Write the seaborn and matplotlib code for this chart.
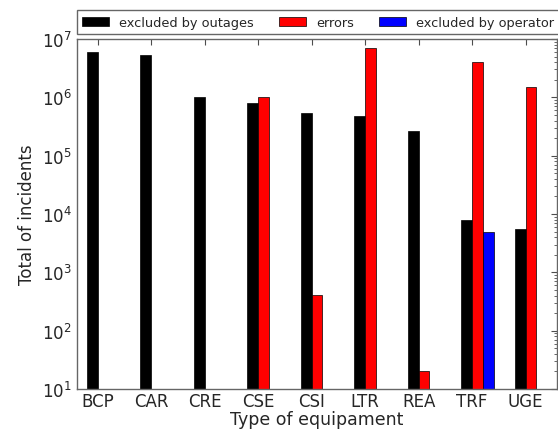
import numpy as np
import pandas as pd
import matplotlib
matplotlib.use('Agg')
import matplotlib.pyplot as plt
import seaborn as sns

# valores (escala log)
equipos = ['BCP', 'CAR', 'CRE', 'CSE', 'CSI', 'LTR', 'REA', 'TRF', 'UGE']
series = ['excluded by outages', 'errors', 'excluded by operator']
outages = [5.9e6, 5.4e6, 1.0e6, 7.9e5, 5.4e5, 4.7e5, 2.6e5, 7.9e3, 5.5e3]
errors = [np.nan, np.nan, np.nan, 1.0e6, 410, 6.9e6, 20, 4.1e6, 1.48e6]
operator = [np.nan, np.nan, np.nan, np.nan, np.nan, np.nan, np.nan, 5.0e3, np.nan]
colores = ['black', 'red', 'blue']

df = pd.DataFrame({'equipo': equipos * 3,
                   'serie': [s for s in series for _ in equipos],
                   'total': outages + errors + operator}).dropna()

sns.set_style('white')
fig, ax = plt.subplots(figsize=(5.58, 4.31), dpi=100)
fig.subplots_adjust(left=0.1375, right=0.9977, bottom=0.0951, top=0.9072)

sns.barplot(data=df, x='equipo', y='total', hue='serie', order=equipos,
            hue_order=series, palette=colores, width=0.6,
            edgecolor='black', linewidth=0.5, saturation=1, ax=ax)
ax.set_yscale('log')

ax.set_ylim(10, 1e7)
ax.set_xlim(-0.49, 8.48)
ax.set_xticks(np.arange(len(equipos)) - 0.1)
ax.set_xticklabels(equipos)
ax.set_xlabel('Type of equipament', fontsize=12.5, labelpad=0)
ax.set_ylabel('Total of incidents', fontsize=12)
ax.tick_params(axis='both', which='both', direction='in', top=True, right=True,
               labelsize=12, color='0.3')
ax.tick_params(which='major', length=4)
ax.tick_params(which='minor', length=2)
ax.tick_params(axis='x', pad=2)
for s in ax.spines.values():
    s.set_color('0.4')
    s.set_linewidth(1)

handles, labels = ax.get_legend_handles_labels()
ax.legend(handles, labels, loc='lower left', bbox_to_anchor=(0.0, 1.015),
          ncol=3, borderaxespad=0, fontsize=9.3, handlelength=2.1,
          handletextpad=0.78, columnspacing=1.95, borderpad=0.4,
          fancybox=False, edgecolor='0.4', framealpha=1)

plt.savefig('out.png', dpi=100)
